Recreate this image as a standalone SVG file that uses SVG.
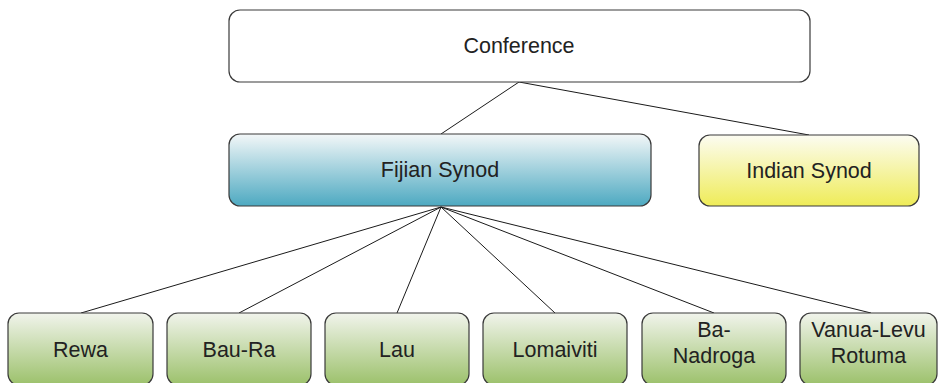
<svg xmlns="http://www.w3.org/2000/svg" width="940" height="383" viewBox="0 0 940 383">
<defs>
<linearGradient id="gBlue" x1="0" y1="0" x2="0" y2="1"><stop offset="0" stop-color="#f3f7f8"/><stop offset="1" stop-color="#4da9c1"/></linearGradient>
<linearGradient id="gYellow" x1="0" y1="0" x2="0" y2="1"><stop offset="0" stop-color="#fcfcf2"/><stop offset="1" stop-color="#efec58"/></linearGradient>
<linearGradient id="gGreen" x1="0" y1="0" x2="0" y2="1"><stop offset="0" stop-color="#f1f4ec"/><stop offset="1" stop-color="#9cc16b"/></linearGradient>
</defs>
<style>
.box{stroke:#3a3a3a;stroke-width:1.2}
.t{font-family:"Liberation Sans",Arial,sans-serif;font-size:21.5px;fill:#222;text-anchor:middle}
.c{stroke:#1a1a1a;stroke-width:1;fill:none}
</style>
<g id="connectors">
<line class="c" x1="519" y1="82" x2="441" y2="134"/>
<line class="c" x1="519" y1="82" x2="809" y2="135"/>
<line class="c" x1="441" y1="207" x2="81" y2="313"/>
<line class="c" x1="441" y1="207" x2="239" y2="313"/>
<line class="c" x1="441" y1="207" x2="397" y2="313"/>
<line class="c" x1="441" y1="207" x2="555" y2="313"/>
<line class="c" x1="441" y1="207" x2="714" y2="313"/>
<line class="c" x1="441" y1="207" x2="871" y2="313"/>
</g>
<g id="conference"><rect class="box" x="229" y="10" width="581" height="72" rx="11" fill="#fff"/><text class="t" x="519" y="53">Conference</text></g>
<g id="fijian"><rect class="box" x="229" y="134" width="422" height="72" rx="11" fill="url(#gBlue)"/><text class="t" x="440" y="177">Fijian Synod</text></g>
<g id="indian"><rect class="box" x="699" y="135" width="220" height="71" rx="11" fill="url(#gYellow)"/><text class="t" x="809" y="178">Indian Synod</text></g>
<g id="rewa"><rect class="box" x="8" y="313" width="145" height="72" rx="11" fill="url(#gGreen)"/><text class="t" x="80.5" y="357">Rewa</text></g>
<g id="bau-ra"><rect class="box" x="167" y="313" width="144" height="72" rx="11" fill="url(#gGreen)"/><text class="t" x="239" y="357">Bau-Ra</text></g>
<g id="lau"><rect class="box" x="325" y="313" width="144" height="72" rx="11" fill="url(#gGreen)"/><text class="t" x="397" y="357">Lau</text></g>
<g id="lomaiviti"><rect class="box" x="483" y="313" width="144" height="72" rx="11" fill="url(#gGreen)"/><text class="t" x="555" y="357">Lomaiviti</text></g>
<g id="ba-nadroga"><rect class="box" x="642" y="313" width="144" height="72" rx="11" fill="url(#gGreen)"/><text class="t" x="714" y="337">Ba-</text><text class="t" x="714" y="363">Nadroga</text></g>
<g id="vanua-levu"><rect class="box" x="800" y="313" width="137" height="72" rx="11" fill="url(#gGreen)"/><text class="t" x="868.5" y="337">Vanua-Levu</text><text class="t" x="868.5" y="363">Rotuma</text></g>
</svg>
